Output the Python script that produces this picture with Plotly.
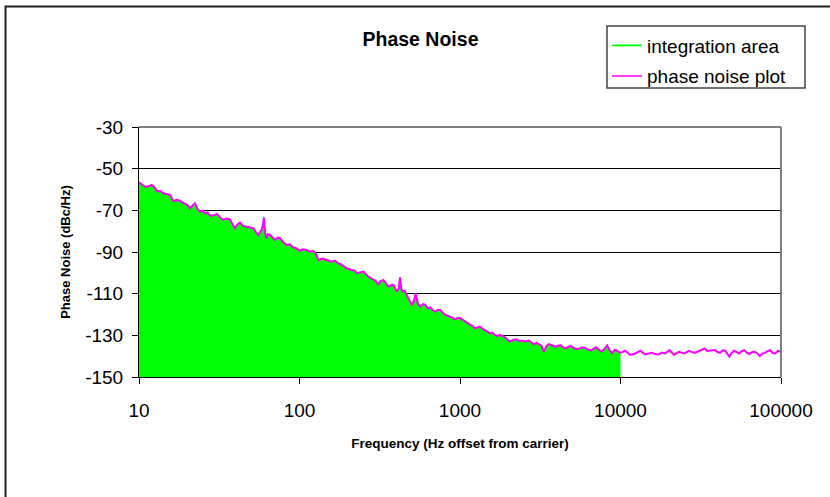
import plotly.graph_objects as go

# ---- data ----
freq_hz = [
    10, 10.5, 11, 11.5, 12, 12.5, 13, 13.5, 14.2, 15, 15.6, 16.4, 17.1, 17.8, 18.5, 19.3,
    20, 20.8, 21.5, 22.3, 23.1, 24, 25, 25.8, 26.8, 27.7, 29, 30.7, 32, 33.5, 35, 36.9,
    38, 39.6, 41, 42.6, 44.5, 46.9, 49, 51.6, 53.5, 55.4, 57, 58, 59.2, 60, 60.8, 61.9,
    63.5, 65.6, 68, 70.4, 73, 75.6, 79, 83.4, 87, 91.5, 96,
    100, 105, 111, 116, 122, 126, 131, 139, 148, 159, 166, 174, 185, 196, 211, 220, 228,
    239, 250, 268, 289, 300, 310, 317, 333, 345, 358, 372, 385, 395, 404, 415, 423, 431,
    439, 452, 465, 482, 500, 515, 530, 545, 566, 587, 608, 630, 654, 677, 701, 728, 754,
    781, 810, 840, 870, 900, 933, 966,
    1000, 1040, 1076, 1115, 1155, 1197, 1240, 1285, 1330, 1380, 1430, 1480, 1535, 1590,
    1650, 1710, 1770, 1835, 1900, 1970, 2040, 2140, 2250, 2330, 2420, 2550, 2680, 2780,
    2880, 3000, 3100, 3220, 3330, 3450, 3580, 3760, 3950, 4100, 4240, 4400, 4560, 4730,
    4900, 5150, 5400, 5670, 5950, 6250, 6560, 6800, 7060, 7330, 7600, 7920, 8260, 8560,
    8880, 9200, 9520, 9760,
    10000, 10700, 11500, 12400, 13300, 14200, 15000, 15700, 16500, 17300, 18100, 19000,
    20200, 21500, 23100, 24900, 26800, 28900, 31100, 33500, 34700, 36000, 38800, 40300,
    41800, 43400, 45000, 46300, 47700, 49200, 50900, 52800, 54800, 56900, 59000, 61300,
    63600, 66000, 68500, 71100, 73800, 76600, 79500, 82500, 85600, 88900, 92200, 95800,
    100000,
]

phase_noise_dbc = [
    -56.5, -57.8, -58.9, -58.4, -57.8, -59.0, -61.0, -60.6, -61.8, -62.3, -62.6, -65.6, -65.0, -65.3, -65.9, -66.6,
    -67.5, -69.0, -67.8, -66.6, -69.2, -70.6, -70.2, -71.4, -71.0, -72.7, -72.4, -71.8, -73.4, -74.6, -73.9, -74.3,
    -76.2, -78.6, -76.8, -75.9, -77.5, -77.8, -78.2, -78.6, -80.5, -81.8, -80.1, -79.4, -77.0, -73.5, -79.8, -83.4,
    -81.5, -81.8, -83.0, -84.2, -83.1, -83.4, -85.2, -86.6, -86.3, -87.8, -88.3,
    -89.4, -88.7, -89.0, -89.8, -89.5, -90.6, -93.8, -93.2, -93.8, -94.6, -94.1, -95.4, -96.3, -97.8, -98.6, -98.9, -100.2,
    -99.6, -99.4, -101.8, -103.4, -104.0, -105.8, -104.2, -103.4, -105.0, -106.6, -106.0, -105.8, -107.6, -109.0, -107.5, -102.2, -107.8,
    -109.0, -108.6, -110.6, -112.4, -115.4, -113.8, -109.8, -114.6, -116.2, -115.0, -115.4, -117.2, -116.5, -118.0, -118.6, -117.8, -117.8,
    -119.2, -120.2, -120.6, -121.0, -121.6, -122.3, -121.6,
    -121.8, -122.5, -123.4, -124.0, -125.0, -125.4, -126.6, -126.2, -125.8, -126.8, -127.4, -128.2, -129.0, -128.8,
    -129.8, -130.4, -129.8, -130.2, -130.9, -132.0, -133.0, -132.2, -131.9, -132.8, -132.5, -133.0, -132.5, -133.4,
    -134.2, -133.6, -134.2, -135.0, -137.9, -135.2, -134.2, -135.0, -135.5, -134.9, -134.8, -135.8, -136.3, -135.4,
    -135.2, -136.2, -136.7, -135.9, -135.8, -136.8, -137.3, -136.4, -135.8, -136.9, -137.9, -136.6, -134.8, -137.2,
    -138.6, -137.0, -137.3, -138.0,
    -138.4, -137.4, -139.4, -138.7, -137.4, -139.2, -138.6, -138.4, -139.0, -139.2, -138.3, -138.7,
    -137.1, -139.4, -137.9, -138.7, -137.4, -138.4, -137.4, -136.3, -137.5, -137.4, -137.1, -138.0,
    -138.4, -137.2, -137.4, -138.9, -140.2, -138.5, -137.4, -138.0, -138.7, -137.6, -137.1, -138.3,
    -139.0, -138.1, -137.9, -138.6, -140.0, -138.8, -138.4, -137.6, -137.1, -138.5, -138.7, -137.5,
    -137.9,
]

integration_limit_hz = 10000
y_floor = -150
y_tick_vals = [-150, -130, -110, -90, -70, -50, -30]
y_tick_text = ["-150", "-130", "-110", "-90", "-70", "-50", "-30"]
x_tick_vals = [10, 100, 1000, 10000, 100000]
x_tick_text = ["10", "100", "1000", "10000", "100000"]

integ_freq = [f for f in freq_hz if f <= integration_limit_hz]
integ_vals = [v for f, v in zip(freq_hz, phase_noise_dbc) if f <= integration_limit_hz]

GREEN = "#00FF00"
MAGENTA = "#FF00FF"
FONT = "Liberation Sans, Arial, sans-serif"

fig = go.Figure()

# baseline for the integration area
fig.add_trace(go.Scatter(
    x=integ_freq, y=[y_floor] * len(integ_freq), mode="lines",
    line=dict(width=0, color=GREEN), hoverinfo="skip", showlegend=False))
# integration area (filled)
fig.add_trace(go.Scatter(
    x=integ_freq, y=integ_vals, mode="lines", fill="tonexty",
    fillcolor=GREEN, line=dict(width=1, color=GREEN), showlegend=False,
    name="integration area"))
# phase noise curve
fig.add_trace(go.Scatter(
    x=freq_hz, y=phase_noise_dbc, mode="lines",
    line=dict(width=2, color=MAGENTA), showlegend=False, name="phase noise plot"))

# legend entries (line symbols)
fig.add_trace(go.Scatter(x=[None], y=[None], mode="lines", name="integration area",
                         line=dict(color=GREEN, width=1.6), legendgroup="a"))
fig.add_trace(go.Scatter(x=[None], y=[None], mode="lines", name="phase noise plot",
                         line=dict(color=MAGENTA, width=1.6), legendgroup="b"))

W, H = 830, 497
L, R, T, B = 139, 49, 127, 120
pw, ph = W - L - R, H - T - B

def px_x(px):
    return (px - L) / pw

def px_y(py):
    return (H - B - py) / ph

fig.update_layout(
    width=W, height=H,
    margin=dict(l=L, r=R, t=T, b=B),
    paper_bgcolor="white", plot_bgcolor="white",
    font=dict(family=FONT, color="black"),
    title=dict(text="<b>Phase Noise</b>", font=dict(size=19.5, family=FONT, color="black"),
               x=px_x(420.5), xref="paper", xanchor="center",
               y=1 - 38.8 / H, yref="container", yanchor="middle"),
    legend=dict(x=px_x(607), y=px_y(26.5), xanchor="left", yanchor="top",
                bgcolor="rgba(0,0,0,0)", borderwidth=0,
                font=dict(size=19, family=FONT, color="black"),
                tracegroupgap=3),
    showlegend=True,
    xaxis=dict(type="log", range=[1, 5], tickmode="array",
               tickvals=x_tick_vals, ticktext=x_tick_text,
               ticks="outside", ticklen=6, tickcolor="black", tickwidth=1,
               ticklabelstandoff=10,
               showline=True, linecolor="black", linewidth=1,
               showgrid=False, zeroline=False,
               tickfont=dict(size=19, family=FONT, color="black"),
               title=dict(text="<b>Frequency (Hz offset from carrier)</b>",
                          font=dict(size=13.5, family=FONT, color="black"), standoff=18)),
    yaxis=dict(range=[-150, -30], tickmode="array", tickvals=y_tick_vals, ticktext=y_tick_text,
               ticks="outside", ticklen=6, tickcolor="black", tickwidth=1,
               ticklabelstandoff=5,
               showline=True, linecolor="black", linewidth=1,
               showgrid=True, gridcolor="black", gridwidth=1, zeroline=False,
               tickfont=dict(size=19, family=FONT, color="black"),
               title=dict(text="<b>Phase Noise (dBc/Hz)</b>",
                          font=dict(size=13, family=FONT, color="black"), standoff=11)),
    shapes=[
        # gray top/right border of plot area
        dict(type="line", xref="paper", yref="paper", x0=0, x1=1, y0=1, y1=1,
             line=dict(color="#808080", width=2), layer="above"),
        dict(type="line", xref="paper", yref="paper", x0=1, x1=1, y0=0, y1=1,
             line=dict(color="#808080", width=2), layer="above"),
        # legend frame
        dict(type="rect", xref="paper", yref="paper", x0=px_x(607), x1=px_x(805),
             y0=px_y(88), y1=px_y(26), line=dict(color="#444", width=1.5),
             fillcolor="rgba(0,0,0,0)", layer="above"),
        # chart outer frame (only its top and left edges fall inside the picture)
        dict(type="rect", xref="paper", yref="paper", x0=px_x(5.5), x1=px_x(900),
             y0=px_y(600), y1=px_y(6.5), line=dict(color="#222", width=2),
             fillcolor="rgba(0,0,0,0)", layer="above"),
    ],
)

fig.write_html(
    "out.html",
    config={"displayModeBar": False},
    post_script=("document.body.style.margin='0px';"
                 "document.body.style.overflow='hidden';"
                 "document.documentElement.style.overflow='hidden';"),
)
